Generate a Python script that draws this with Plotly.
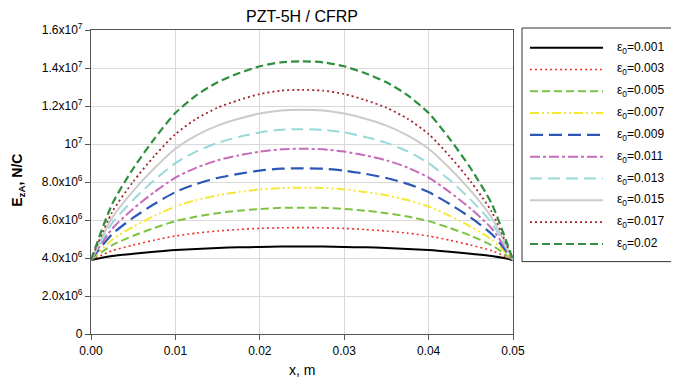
import plotly.graph_objects as go

# ---------------- data ----------------
x_m = [0.0, 0.0025, 0.005, 0.0075, 0.01, 0.0125, 0.015, 0.0175, 0.02, 0.0225, 0.025,
       0.0275, 0.03, 0.0325, 0.035, 0.0375, 0.04, 0.0425, 0.045, 0.0475, 0.05]

eps_labels = ["0.001", "0.003", "0.005", "0.007", "0.009", "0.011", "0.013", "0.015", "0.017", "0.02"]

# half profiles (x = 0 ... 0.025), values in units of 1e6 N/C; mirrored for the right half
half_001 = [3.90, 4.10, 4.22, 4.33, 4.42, 4.48, 4.53, 4.56, 4.58, 4.60, 4.60]
half_003 = [3.90, 4.38, 4.68, 4.94, 5.16, 5.31, 5.42, 5.50, 5.56, 5.59, 5.60]
half_005 = [3.90, 4.67, 5.17, 5.58, 5.94, 6.18, 6.36, 6.49, 6.58, 6.64, 6.65]
half_007 = [3.90, 4.96, 5.65, 6.22, 6.71, 7.05, 7.30, 7.47, 7.61, 7.68, 7.70]
half_009 = [3.90, 5.25, 6.12, 6.84, 7.47, 7.90, 8.21, 8.43, 8.60, 8.70, 8.72]
half_011 = [3.90, 5.54, 6.59, 7.47, 8.23, 8.76, 9.14, 9.40, 9.60, 9.72, 9.75]
half_013 = [3.90, 5.83, 7.06, 8.10, 8.99, 9.61, 10.06, 10.37, 10.61, 10.75, 10.78]
half_015 = [3.90, 6.11, 7.53, 8.72, 9.75, 10.46, 10.97, 11.33, 11.60, 11.76, 11.80]
half_017 = [3.90, 6.41, 8.02, 9.36, 10.52, 11.33, 11.91, 12.31, 12.63, 12.81, 12.85]
half_020 = [3.90, 6.83, 8.71, 10.27, 11.63, 12.57, 13.25, 13.72, 14.09, 14.30, 14.35]

halves = [half_001, half_003, half_005, half_007, half_009,
          half_011, half_013, half_015, half_017, half_020]

y_tickvals = [0, 2e6, 4e6, 6e6, 8e6, 1e7, 1.2e7, 1.4e7, 1.6e7]
y_ticktext = ["0", "2.0x10<sup>6</sup>", "4.0x10<sup>6</sup>", "6.0x10<sup>6</sup>",
              "8.0x10<sup>6</sup>", "10<sup>7</sup>", "1.2x10<sup>7</sup>",
              "1.4x10<sup>7</sup>", "1.6x10<sup>7</sup>"]
x_tickvals = [0.0, 0.01, 0.02, 0.03, 0.04, 0.05]
x_ticktext = ["0.00", "0.01", "0.02", "0.03", "0.04", "0.05"]

# ---------------- styles ----------------
colors = ["#000000", "#F0302A", "#7CC243", "#F4E836", "#2C57B5",
          "#C66BB9", "#98D9D9", "#CBCBCB", "#A3242C", "#2F8F3E"]
dashes = ["solid", "2px,3px", "8px,4px", "9px,3px,2px,3px,2px,3px", "13px,6px",
          "10px,3px,3px,3px", "12px,6px", "solid", "2px,3px", "8px,4px"]
widths = [2.0, 1.6, 2.0, 2.0, 2.2, 2.0, 2.0, 2.0, 1.8, 2.2]

FONT = "Liberation Sans, Arial, sans-serif"

fig = go.Figure()
for lab, half, c, d, w in zip(eps_labels, halves, colors, dashes, widths):
    full = half + half[-2::-1]
    yvals = [v * 1e6 for v in full]
    fig.add_trace(go.Scatter(
        x=x_m, y=yvals, mode="lines", name="ε<sub>0</sub>=" + lab,
        line=dict(color=c, dash=d, width=w, shape="spline", smoothing=0.7),
        showlegend=False, hoverinfo="x+y"))

# the page has an 8 px body margin, so the figure is offset by 8 px
OFF = 8
W, H = 679 - OFF, 385 - OFF
L, T = 91 - OFF, 30 - OFF
R = W - (513 - OFF)
B = H - (334.5 - OFF)
pw, ph = W - L - R, H - T - B

def px_to_paper_x(px):  # px in reference-page coordinates
    return (px - OFF - L) / pw

def px_to_paper_y(py):
    return (H - B - (py - OFF)) / ph

shapes = []
annotations = []
# legend box
shapes.append(dict(type="rect", xref="paper", yref="paper",
                   x0=px_to_paper_x(522), x1=px_to_paper_x(677),
                   y0=px_to_paper_y(262), y1=px_to_paper_y(28),
                   line=dict(color="#333333", width=1), fillcolor="white", layer="below"))
for i, (lab, c, d, w) in enumerate(zip(eps_labels, colors, dashes, widths)):
    py = 47.7 + i * 21.85
    shapes.append(dict(type="line", xref="paper", yref="paper",
                       x0=px_to_paper_x(530), x1=px_to_paper_x(603),
                       y0=px_to_paper_y(py), y1=px_to_paper_y(py),
                       line=dict(color=c, dash=d, width=w)))
    annotations.append(dict(xref="paper", yref="paper",
                            x=px_to_paper_x(615), y=px_to_paper_y(py),
                            xanchor="left", yanchor="middle", showarrow=False,
                            text="ε<sub>0</sub>=" + lab,
                            font=dict(family=FONT, size=12, color="#000000")))

# axis titles
annotations.append(dict(xref="paper", yref="paper",
                        x=px_to_paper_x(302), y=px_to_paper_y(370.5),
                        xanchor="center", yanchor="middle", showarrow=False,
                        text="x, m", font=dict(family=FONT, size=14, color="#000000")))
annotations.append(dict(xref="paper", yref="paper",
                        x=px_to_paper_x(18), y=px_to_paper_y(181),
                        xanchor="center", yanchor="middle", showarrow=False, textangle=-90,
                        text="<b>E<sub>zA</sub>, N/C</b>",
                        font=dict(family=FONT, size=14, color="#000000")))

fig.update_layout(
    width=W, height=H,
    margin=dict(l=L, r=R, t=T, b=B, autoexpand=False),
    paper_bgcolor="white", plot_bgcolor="white",
    font=dict(family=FONT, size=12, color="#000000"),
    title=dict(text="PZT-5H / CFRP", x=(L + pw / 2) / W, xanchor="center",
               y=1.0, yanchor="top", pad=dict(t=3, b=0, l=0, r=0),
               font=dict(family=FONT, size=16, color="#000000")),
    shapes=shapes,
    annotations=annotations,
    showlegend=False,
)

fig.update_xaxes(
    range=[0, 0.05], tickvals=x_tickvals, ticktext=x_ticktext,
    showgrid=True, gridcolor="#D9D9D9", gridwidth=1,
    showline=True, linecolor="#555555", linewidth=1.2, mirror=True,
    ticks="outside", ticklen=5, tickcolor="#555555",
    zeroline=False, automargin=False,
    tickfont=dict(family=FONT, size=12),
)
fig.update_yaxes(
    range=[0, 1.6e7], tickvals=y_tickvals, ticktext=y_ticktext,
    showgrid=True, gridcolor="#D9D9D9", gridwidth=1,
    showline=True, linecolor="#555555", linewidth=1.2, mirror=True,
    ticks="outside", ticklen=5, tickcolor="#555555",
    zeroline=False, automargin=False,
    tickfont=dict(family=FONT, size=12),
)

fig.write_html("out.html")
